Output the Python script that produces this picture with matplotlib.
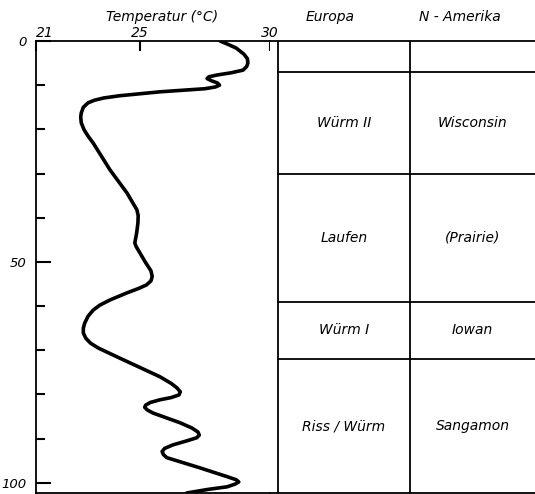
import numpy as np
import matplotlib.pyplot as plt

# temperature curve (depth units, deg C)
depth = [0, 0.8, 1.6, 3, 4, 5, 5.8, 6.6, 7.2, 7.7, 8.1, 8.5, 9.0, 9.5, 10,
         10.4, 10.8, 11.5, 12.4, 12.9, 13.4, 14, 15, 16.3, 17.2, 18.5, 20.1,
         21.5, 23.1, 29.2, 34.4, 38.2, 39.5, 41.2, 43.5, 45.7, 46.5, 48, 50,
         52, 53.3, 54.3, 55.2, 56, 57, 58.6, 59.8, 60.9, 62.3, 63.9, 65, 66.1,
         67.3, 68.4, 69.5, 71.8, 76, 77.5, 78.5, 79.4, 80.1, 80.7, 81.2, 81.8,
         82.4, 82.9, 83.5, 84.2, 86.4, 87.6, 88.5, 89.2, 89.8, 90.5, 91.4,
         92.2, 92.9, 93.6, 94.3, 96.6, 98.6, 99.3, 99.8, 100.3, 100.9, 101.5,
         102.3]
temp = [28.08, 28.4, 28.7, 29.0, 29.13, 29.15, 29.1, 28.96, 28.5, 27.96,
        27.65, 27.58, 27.75, 27.98, 28.06, 27.9, 27.5, 25.77, 24.2, 23.6,
        23.25, 23.0, 22.82, 22.74, 22.72, 22.74, 22.85, 23.0, 23.2, 23.85,
        24.5, 24.88, 24.93, 24.92, 24.87, 24.8, 24.85, 25.0, 25.2, 25.42,
        25.47, 25.42, 25.25, 24.95, 24.5, 23.85, 23.45, 23.2, 23.0, 22.87,
        22.82, 22.82, 22.92, 23.1, 23.4, 24.23, 25.77, 26.2, 26.42, 26.55,
        26.5, 26.2, 25.77, 25.4, 25.22, 25.18, 25.28, 25.5, 26.54, 27.0,
        27.23, 27.28, 27.18, 26.8, 26.27, 25.95, 25.85, 25.9, 26.03, 27.3,
        28.35, 28.7, 28.8, 28.65, 28.35, 27.6, 26.8]

# stratigraphic table
bounds = [0, 7, 30, 59, 72, 102.3]
europa = ['', 'Würm II', 'Laufen', 'Würm I', 'Riss / Würm']
amerika = ['', 'Wisconsin', '(Prairie)', 'Iowan', 'Sangamon']

W, H = 535, 494
fig = plt.figure(figsize=(W / 100, H / 100), dpi=100)
fs = 10
font = dict(fontstyle='italic', fontsize=fs)

ymax = bounds[-1]
ax = fig.add_axes([36 / W, 1 - 493 / H, (270 - 36) / W, (493 - 41) / H])
ax.plot(temp, depth, color='black', lw=2.6, solid_capstyle='round',
        solid_joinstyle='round')
ax.set_xlim(21, 30)
ax.set_ylim(ymax, 0)
ax.spines['right'].set_visible(False)
for s in ['left', 'top', 'bottom']:
    ax.spines[s].set_linewidth(1.3)

ax.xaxis.tick_top()
ax.set_xticks([21, 25, 30])
ax.set_xticklabels(['21', '25', '30'], **font)
ax.tick_params(axis='x', direction='in', length=7, width=1.5, pad=1)
ax.get_xticklabels()[0].set_ha('left')
ax.set_yticks([0, 50, 100])
ax.set_yticklabels(['0', '50', '100'], fontstyle='italic', fontsize=9.5)
ax.set_yticks(np.arange(10, 101, 10), minor=True)
ax.tick_params(axis='y', which='major', direction='in', length=11, width=1.5, pad=7)
ax.tick_params(axis='y', which='minor', direction='in', length=6.5, width=1.5)
fig.text(162 / W, 1 - 17 / H, 'Temperatur (°C)', ha='center', va='center', **font)

# table axes
tx = fig.add_axes([270 / W, 1 - 493 / H, (W - 270) / W, (493 - 41) / H])
tx.set_xlim(0, W - 270)
tx.set_ylim(ymax, 0)
tx.set_xticks([])
tx.set_yticks([])
for s in ['left', 'right']:
    tx.spines[s].set_visible(False)
for s in ['top', 'bottom']:
    tx.spines[s].set_linewidth(1.3)
col1, col2, col3 = 8, 140, W - 270
tx.axvline(col1, color='black', lw=1.3)
tx.axvline(col2, color='black', lw=1.3)
for b in bounds[1:-1]:
    tx.plot([col1, col3], [b, b], color='black', lw=1.3)
for i in range(len(europa)):
    mid = (bounds[i] + bounds[i + 1]) / 2
    tx.text((col1 + col2) / 2, mid, europa[i], ha='center', va='center', **font)
    tx.text((col2 + col3) / 2, mid, amerika[i], ha='center', va='center', **font)
for lbl, xpos in [('Europa', 330), ('N - Amerika', 460)]:
    fig.text(xpos / W, 1 - 17 / H, lbl, ha='center', va='center', **font)

fig.savefig('out.png', dpi=100)
